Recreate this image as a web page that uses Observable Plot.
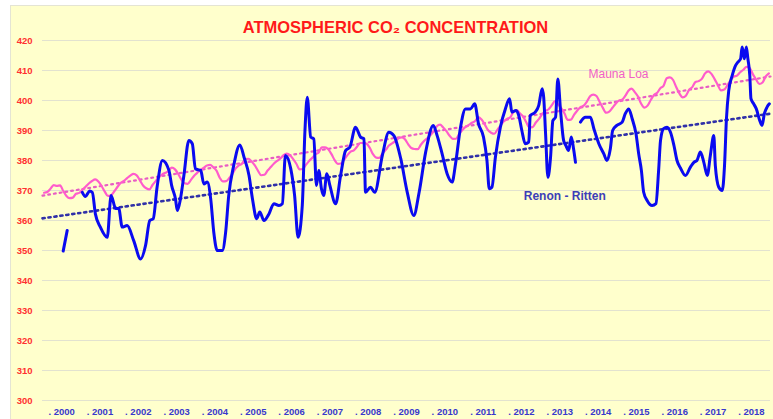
<!DOCTYPE html>
<html>
<head>
<meta charset="utf-8">
<script src="https://cdn.jsdelivr.net/npm/d3@7"></script>
<script src="https://cdn.jsdelivr.net/npm/@observablehq/plot@0.6"></script>
<style>
  html, body { margin: 0; padding: 0; background: #ffffff; }
  #wrap { position: relative; width: 773px; height: 419px; overflow: hidden; }
  #bg { position: absolute; left: 10px; top: 5px; right: 0; bottom: 0; background: #ffffcc; border-left: 1px solid #e4e4d4; border-top: 1px solid #e4e4d4; }
  #chart { position: absolute; left: 0; top: 0; }
  #chart svg { background: transparent; }
  #chart [aria-label="y-axis tick label"] text { font-weight: bold; }
</style>
</head>
<body>
<div id="wrap"><div id="bg"></div><div id="chart"></div></div>
<script>
// ---- data ----
const title = "ATMOSPHERIC CO₂ CONCENTRATION";
const yTicks = [300, 310, 320, 330, 340, 350, 360, 370, 380, 390, 400, 410, 420];
const yearLabels = [2000, 2001, 2002, 2003, 2004, 2005, 2006, 2007, 2008, 2009, 2010, 2011, 2012, 2013, 2014, 2015, 2016, 2017, 2018];

// Mauna Loa monthly means (ppm), one row per year from 2000
const maunaLoaFirstYear = 2000;
const maunaLoaMonthly = [
  [369.25, 369.50, 370.56, 371.82, 371.51, 371.71, 369.85, 368.20, 367.44, 367.62, 368.93, 369.21],
  [370.29, 371.24, 372.33, 373.16, 373.69, 373.00, 371.50, 369.61, 368.18, 368.45, 369.76, 371.24],
  [372.53, 373.20, 374.12, 374.97, 375.52, 375.05, 373.40, 371.68, 370.73, 370.39, 371.92, 373.21],
  [374.41, 375.39, 375.90, 376.52, 377.60, 377.03, 375.51, 373.60, 372.40, 372.24, 373.53, 374.92],
  [375.92, 376.90, 377.54, 378.34, 378.51, 377.71, 376.61, 374.26, 373.02, 373.10, 374.17, 375.53],
  [377.37, 378.39, 378.96, 380.48, 380.59, 379.68, 378.35, 376.57, 375.08, 375.23, 376.65, 377.80],
  [379.02, 379.87, 380.71, 381.78, 382.26, 381.77, 380.45, 378.92, 377.04, 377.18, 378.54, 379.85],
  [380.88, 382.02, 382.69, 384.36, 384.37, 383.72, 382.12, 380.13, 378.86, 379.00, 380.33, 381.79],
  [382.97, 383.39, 384.60, 385.84, 385.84, 385.58, 384.20, 382.10, 380.95, 380.85, 382.37, 383.55],
  [384.97, 385.73, 386.46, 387.38, 387.70, 387.10, 385.46, 384.16, 383.83, 383.76, 385.25, 386.52],
  [387.43, 388.48, 389.71, 391.40, 391.96, 391.00, 389.79, 388.24, 387.20, 387.25, 388.82, 390.20],
  [391.18, 391.86, 392.57, 393.16, 394.44, 393.70, 392.06, 390.16, 389.27, 388.91, 390.31, 391.73],
  [393.06, 393.86, 394.40, 396.18, 396.84, 395.73, 394.71, 392.73, 391.02, 391.12, 392.66, 393.87],
  [395.44, 396.51, 397.10, 398.40, 399.77, 398.66, 397.41, 395.64, 393.53, 393.62, 395.29, 396.69],
  [397.80, 398.28, 399.65, 401.43, 401.99, 401.48, 399.50, 397.55, 395.94, 396.30, 397.58, 398.93],
  [399.96, 400.26, 401.52, 403.25, 403.95, 402.80, 401.31, 398.93, 397.63, 398.29, 400.16, 401.85],
  [402.56, 404.12, 404.87, 407.45, 407.72, 406.83, 404.41, 402.27, 401.05, 401.59, 403.55, 404.45],
  [406.17, 406.46, 407.22, 409.04, 409.69, 408.88, 407.12, 405.13, 403.37, 403.63, 405.12, 406.81],
  [407.96, 408.32, 409.41, 410.24, 411.24, 410.79, 408.71, 406.99, 405.51, 406.00, 408.02, 409.07]
];

// Renon - Ritten (decimal year, ppm); null marks a data gap
const renonDate = [
  2000.54, 2000.645, 2000.80,
  2001.04, 2001.12, 2001.23, 2001.30, 2001.38, 2001.51, 2001.69, 2001.79, 2001.91, 2001.99,
  2002.08, 2002.21, 2002.38, 2002.56, 2002.69, 2002.80, 2002.89, 2002.99,
  2003.13, 2003.30, 2003.37, 2003.47, 2003.52, 2003.60, 2003.69, 2003.82, 2003.91, 2003.99,
  2004.13, 2004.21, 2004.30, 2004.39, 2004.47, 2004.56, 2004.69, 2004.78, 2004.86, 2004.99,
  2005.15, 2005.26, 2005.39, 2005.48, 2005.59, 2005.67, 2005.78, 2005.91,
  2006.04, 2006.17, 2006.26, 2006.34, 2006.48, 2006.58, 2006.67, 2006.78, 2006.85, 2006.91,
  2007.00, 2007.08, 2007.15, 2007.21, 2007.28, 2007.34, 2007.42, 2007.50, 2007.65, 2007.78, 2007.91,
  2008.02, 2008.17, 2008.30, 2008.39, 2008.43, 2008.56, 2008.67, 2008.87,
  2009.04, 2009.17, 2009.35, 2009.52, 2009.69, 2009.83,
  2010.00, 2010.20, 2010.30, 2010.43, 2010.56, 2010.69, 2010.78, 2010.91,
  2011.04, 2011.17, 2011.28, 2011.38, 2011.51, 2011.60, 2011.66, 2011.73, 2011.82, 2011.95,
  2012.08, 2012.19, 2012.25, 2012.36, 2012.43, 2012.51, 2012.60, 2012.69, 2012.73, 2012.86, 2012.95,
  2013.04, 2013.08, 2013.13, 2013.19, 2013.26, 2013.32, 2013.39, 2013.45, 2013.52, 2013.60, 2013.66, 2013.73, 2013.80, 2013.86, 2013.91,
  2013.98,
  2014.04, 2014.17, 2014.30, 2014.39, 2014.52, 2014.65, 2014.73, 2014.82, 2014.88, 2014.99,
  2015.13, 2015.21, 2015.30, 2015.39, 2015.49, 2015.56, 2015.63, 2015.69, 2015.78, 2015.91,
  2016.01, 2016.08, 2016.13, 2016.21, 2016.30, 2016.39, 2016.48, 2016.56, 2016.65, 2016.78, 2016.91,
  2017.00, 2017.08, 2017.17, 2017.26, 2017.35, 2017.43, 2017.52, 2017.56, 2017.65, 2017.74, 2017.80, 2017.85, 2017.91,
  2018.00, 2018.09, 2018.15, 2018.22, 2018.26, 2018.32, 2018.37, 2018.41, 2018.46, 2018.49, 2018.56, 2018.63, 2018.72, 2018.78, 2018.84, 2018.91, 2018.97
];
const renonCO2 = [
  349.8, 356.7, null,
  369.4, 368.0, 369.8, 369.4, 362.2, 357.8, 354.4, 368.3, 364.0, 364.0,
  357.8, 358.3, 353.3, 347.2, 351.7, 360.0, 360.6, 371.1,
  380.0, 376.7, 371.7, 367.2, 363.3, 367.2, 375.0, 386.7, 385.6, 377.2,
  376.7, 372.2, 372.8, 367.2, 356.1, 350.0, 350.0, 356.1, 368.3, 378.3,
  385.2, 381.1, 375.0, 367.2, 360.6, 362.8, 360.0, 362.2,
  365.6, 365.0, 365.6, 381.7, 377.2, 368.3, 354.4, 365.0, 390.0, 401.1,
  387.8, 387.2, 371.7, 376.7, 370.6, 368.3, 375.6, 371.7, 365.6, 375.0, 383.3,
  384.4, 391.1, 387.8, 387.2, 369.4, 371.1, 369.4, 381.7,
  389.4, 388.3, 380.6, 369.4, 361.7, 369.4,
  382.8, 391.7, 388.3, 382.2, 375.6, 372.8, 378.9, 391.1,
  397.2, 397.2, 398.9, 392.2, 387.8, 380.0, 370.6, 371.1, 381.1, 391.1,
  397.2, 400.6, 396.1, 396.7, 395.0, 390.0, 385.6, 386.1, 395.0, 396.1, 398.3,
  403.9, 401.1, 388.9, 374.4, 381.1, 393.3, 394.4, 407.2, 396.7, 386.7, 385.0, 383.3, 387.8, 383.9, 379.4,
  null,
  392.8, 394.4, 394.4, 390.6, 385.6, 382.2, 380.0, 383.9, 390.0, 391.7,
  392.8, 395.6, 397.2, 393.9, 388.9, 382.2, 376.7, 369.4, 366.7, 365.0,
  365.6, 376.7, 386.7, 390.6, 391.1, 389.4, 385.0, 380.0, 377.5, 375.0, 377.8,
  379.4, 380.0, 382.8, 379.4, 375.0, 381.7, 388.3, 378.3, 371.1, 370.0, 378.3, 393.9, 403.3,
  408.3, 411.7, 412.8, 413.9, 417.8, 413.9, 417.8, 413.9, 408.3, 400.6, 398.9, 397.2, 393.3, 391.7, 395.6, 397.8, 398.9
];

// linear trends (start / end of the period)
const trendYears = [2000, 2019];
const maunaLoaTrend = [368.3, 408.0];
const renonTrend = [360.7, 395.6];

// ---- build tables ----
const maunaLoa = maunaLoaMonthly.flatMap((row, i) =>
  row.map((v, m) => ({date: maunaLoaFirstYear + i + (m + 0.5) / 12, co2: v})));
const renon = renonDate.map((d, i) => ({date: d, co2: renonCO2[i]}));
const mlTrend = trendYears.map((d, i) => ({date: d, co2: maunaLoaTrend[i]}));
const rrTrend = trendYears.map((d, i) => ({date: d, co2: renonTrend[i]}));

const font = "'Liberation Sans', Arial, sans-serif";

const chart = Plot.plot({
  width: 773,
  height: 419,
  marginLeft: 42,
  marginRight: 3,
  marginTop: 40,
  marginBottom: 19,
  style: {fontFamily: font, background: "transparent"},
  x: {domain: [2000, 2019], axis: null},
  y: {domain: [300, 420], axis: null},
  marks: [
    Plot.gridY(yTicks, {stroke: "#e2e2cf", strokeOpacity: 1, strokeWidth: 1.2}),
    Plot.axisY(yTicks, {tickSize: 0, tickPadding: 10, fontSize: 9.5, color: "#ff3030", label: null, tickFormat: d => String(d)}),
    Plot.text(yearLabels, {x: d => d + 0.5, frameAnchor: "bottom", lineAnchor: "middle", dy: 11.5, text: d => ". " + d,
      fill: "#3838cc", fontSize: 9.5, fontWeight: "bold"}),
    Plot.line(mlTrend, {x: "date", y: "co2", stroke: "#e85cc4", strokeWidth: 2.2, strokeDasharray: "1.8,4"}),
    Plot.line(rrTrend, {x: "date", y: "co2", stroke: "#3030a8", strokeWidth: 2.6, strokeDasharray: "2.2,3.8"}),
    Plot.line(maunaLoa, {x: "date", y: "co2", stroke: "#ff5ccc", strokeWidth: 2.2, curve: "monotone-x"}),
    Plot.line(renon, {x: "date", y: "co2", stroke: "#0a0af0", strokeWidth: 3, strokeLinejoin: "round", curve: "monotone-x"}),
    Plot.text(["Mauna Loa"], {x: 2014.25, y: 408.9, fill: "#f060c8", fontSize: 12, textAnchor: "start"}),
    Plot.text(["Renon - Ritten"], {x: 2012.56, y: 368, fill: "#3d3db8", fontSize: 12, fontWeight: "bold", textAnchor: "start"}),
    Plot.text([title], {frameAnchor: "top", lineAnchor: "middle", dy: -13, dx: -11, fill: "#ff1a1a", fontSize: 16.5, fontWeight: "bold"})
  ]
});
document.getElementById("chart").appendChild(chart);
</script>
</body>
</html>
